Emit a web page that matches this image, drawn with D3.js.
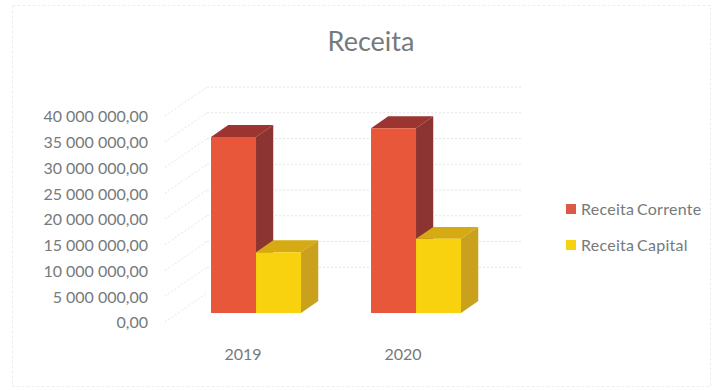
<!DOCTYPE html>
<html>
<head>
<meta charset="utf-8">
<script src="https://cdn.jsdelivr.net/npm/d3@7"></script>
<style>
html,body{margin:0;padding:0;background:#fff;}
svg{display:block;}
text{font-family:Lato,"Open Sans",sans-serif;fill:#757a7a;}
</style>
</head>
<body>
<svg id="chart" width="716" height="390"></svg>
<script>
// Revenue figures per year
const years = ["2019", "2020"];
const seriesNames = ["Receita Corrente", "Receita Capital"];
const receitaCorrente = [34200000, 35900000];
const receitaCapital = [11800000, 14400000];
const tickValues = [0, 5000000, 10000000, 15000000, 20000000, 25000000, 30000000, 35000000, 40000000];
const tickLabels = ["0,00", "5 000 000,00", "10 000 000,00", "15 000 000,00", "20 000 000,00",
  "25 000 000,00", "30 000 000,00", "35 000 000,00", "40 000 000,00"];
const faceColors = [
  {front: "#e9573a", top: "#9c3531", side: "#8b3432", key: "#dc5a45"},
  {front: "#f8d10f", top: "#d5aa12", side: "#c9a11c", key: "#f7d211"}
];

const svg = d3.select("#chart");

// Value scale measured on the front edge of the floor; depth maps front to back wall.
const y = d3.scaleLinear().domain([0, 40000000]).range([322, 116]);
const x = d3.scaleLinear().domain([0, 1]).range([165, 485]);
const depthX = d3.scaleLinear().domain([0, 1]).range([0, 42]);
const depthY = d3.scaleLinear().domain([0, 1]).range([0, -29]);
const project = (u, v, d) => [x(u) + depthX(d), y(v) + depthY(d)];

// Category bands along the floor, each holding one bar per series
const band = d3.scaleBand().domain(years).range([0, 1]);
const inner = d3.scaleBand().domain(d3.range(seriesNames.length))
  .range([0.1031, 0.3844]);
const depthFront = 0.31, depthBack = 0.72, wallEnd = 0.984;

// Dotted frame around the chart area
svg.append("rect").attr("x", 12.5).attr("y", 5.5).attr("width", 698).attr("height", 381)
  .attr("fill", "none").attr("stroke", "#eceeed").attr("stroke-width", 1)
  .attr("stroke-dasharray", "3 2");

// Chart walls: dotted lines on the side wall and on the back wall
const grid = svg.append("g").attr("fill", "none").attr("stroke", "#e2e6e5")
  .attr("stroke-width", 1).attr("stroke-dasharray", "2 2");
const line = d3.line();
tickValues.forEach(v => {
  grid.append("path").attr("d", line([project(0, v, 0), project(0, v, 1)]));
  if (v > 0) grid.append("path").attr("d", line([project(0, v, 1), project(wallEnd, v, 1)]));
});

// Value labels
svg.append("g").selectAll("text").data(tickValues).join("text")
  .attr("x", 148).attr("y", d => y(d)).attr("dy", "0.4em")
  .attr("text-anchor", "end").attr("font-size", 16)
  .text((d, i) => tickLabels[i]);

// One 3D bar: top and side faces first, front face over them
function drawBar(g, u0, u1, value, colors) {
  const face = (pts, fill) => g.append("path").attr("d", line(pts) + "Z").attr("fill", fill);
  face([project(u0, value, depthFront), project(u1, value, depthFront),
        project(u1, value, depthBack), project(u0, value, depthBack)], colors.top);
  face([project(u1, 0, depthFront), project(u1, value, depthFront),
        project(u1, value, depthBack), project(u1, 0, depthBack)], colors.side);
  face([project(u0, 0, depthFront), project(u1, 0, depthFront),
        project(u1, value, depthFront), project(u0, value, depthFront)], colors.front);
}

const bars = svg.append("g");
years.forEach((yr, i) => {
  [receitaCorrente, receitaCapital].forEach((series, s) => {
    const u0 = band(yr) + inner(s);
    drawBar(bars, u0, u0 + inner.bandwidth(), series[i], faceColors[s]);
  });
});

// Category labels
svg.append("g").selectAll("text").data(years).join("text")
  .attr("x", (d, i) => [243, 403][i]).attr("y", 354).attr("dy", "0.35em")
  .attr("text-anchor", "middle").attr("font-size", 16).text(d => d);

// Title
svg.append("text").attr("x", 371).attr("y", 42).attr("dy", "0.35em")
  .attr("text-anchor", "middle").attr("font-size", 27).text("Receita");

// Legend
const legend = svg.append("g").selectAll("g").data(seriesNames).join("g")
  .attr("transform", (d, i) => `translate(566,${[209, 245][i]})`);
legend.append("rect").attr("x", 0).attr("y", -5).attr("width", 10).attr("height", 10)
  .attr("fill", (d, i) => faceColors[i].key);
legend.append("text").attr("x", 15).attr("dy", "0.35em").attr("font-size", 16)
  .attr("letter-spacing", 0.25).attr("word-spacing", -1.5).text(d => d);
</script>
</body>
</html>
